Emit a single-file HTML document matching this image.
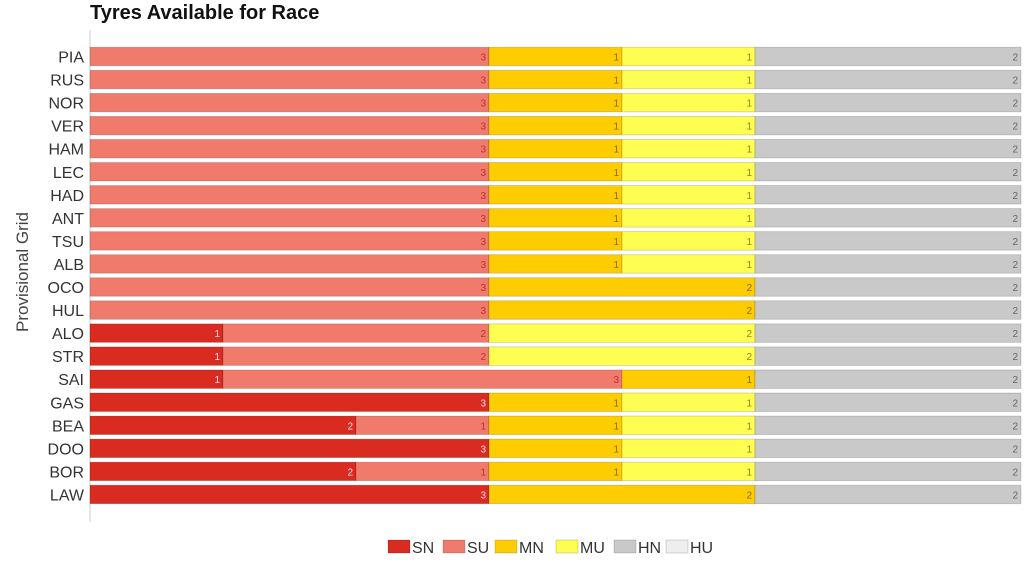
<!DOCTYPE html>
<html><head><meta charset="utf-8"><style>
body{margin:0;background:#fff;width:1034px;height:569px;overflow:hidden;font-family:"Liberation Sans",sans-serif}
</style></head><body>
<svg id="chart" width="1034" height="569">
<text x="90" y="19" font-size="20" font-weight="bold" fill="#111">Tyres Available for Race</text>
<line x1="90" y1="30" x2="90" y2="522" stroke="#ccc"/>
<text transform="translate(28,272) rotate(-90)" text-anchor="middle" font-size="17" fill="#444">Provisional Grid</text>
<g id="bars"></g>
<g id="legend"></g>
</svg>
<script>
const drivers=["PIA","RUS","NOR","VER","HAM","LEC","HAD","ANT","TSU","ALB","OCO","HUL","ALO","STR","SAI","GAS","BEA","DOO","BOR","LAW"];
const seriesNames=["SN","SU","MN","MU","HN","HU"];
const SN=[0,0,0,0,0,0,0,0,0,0,0,0,1,1,1,3,2,3,2,3];
const SU=[3,3,3,3,3,3,3,3,3,3,3,3,2,2,3,0,1,0,1,0];
const MN=[1,1,1,1,1,1,1,1,1,1,2,2,0,0,1,1,1,1,1,2];
const MU=[1,1,1,1,1,1,1,1,1,1,0,0,2,2,0,1,1,1,1,0];
const HN=[2,2,2,2,2,2,2,2,2,2,2,2,2,2,2,2,2,2,2,2];
const HU=[0,0,0,0,0,0,0,0,0,0,0,0,0,0,0,0,0,0,0,0];
const series=[SN,SU,MN,MU,HN,HU];
const colors=["#d92b1f","#f07a6c","#fdcd02","#fdfd52","#c9c9c9","#eeeeee"];
const labelColors=["#fde","#b33","#8a6a00","#8a8a20","#666","#666"];
const x0=90,unit=133,y0=56.5,pitch=23.05,bh=18.5;
const xs=v=>x0+v*unit, ys=i=>y0+i*pitch;
const ns="http://www.w3.org/2000/svg";
const g=document.getElementById('bars');
drivers.forEach((d,i)=>{
  const t=document.createElementNS(ns,'text');
  t.setAttribute('x',84);t.setAttribute('y',ys(i)+6);t.setAttribute('text-anchor','end');
  t.setAttribute('font-size','16');t.setAttribute('fill','#333');t.textContent=d;
  
  
  g.appendChild(t);
  let acc=0;
  series.forEach((s,k)=>{
    const v=s[i]; if(!v) return;
    const r=document.createElementNS(ns,'rect');
    r.setAttribute('x',xs(acc));r.setAttribute('y',ys(i)-bh/2);
    r.setAttribute('width',xs(acc+v)-xs(acc));r.setAttribute('height',bh);
    r.setAttribute('fill',colors[k]);r.setAttribute('stroke','rgba(0,0,0,0.18)');r.setAttribute('stroke-width','0.8');
    
    
    g.appendChild(r);
    acc+=v;
    const l=document.createElementNS(ns,'text');
    l.setAttribute('x',xs(acc)-3);l.setAttribute('y',ys(i)+4);l.setAttribute('text-anchor','end');
    l.setAttribute('font-size','10');l.setAttribute('fill',labelColors[k]);l.textContent=v;
    
    
    g.appendChild(l);
  });
});
const lg=document.getElementById('legend');
const lx=[388,443,495,556,614,666];
seriesNames.forEach((n,k)=>{
  const r=document.createElementNS(ns,'rect');
  r.setAttribute('x',lx[k]);r.setAttribute('y',540);r.setAttribute('width',22);r.setAttribute('height',13);
  r.setAttribute('fill',colors[k]);r.setAttribute('stroke','rgba(0,0,0,0.15)');
  
  
  lg.appendChild(r);
  const t=document.createElementNS(ns,'text');
  t.setAttribute('x',lx[k]+24);t.setAttribute('y',553);t.setAttribute('font-size','16');t.setAttribute('fill','#333');t.textContent=n;
  
  
  lg.appendChild(t);
});
</script>
</body></html>
